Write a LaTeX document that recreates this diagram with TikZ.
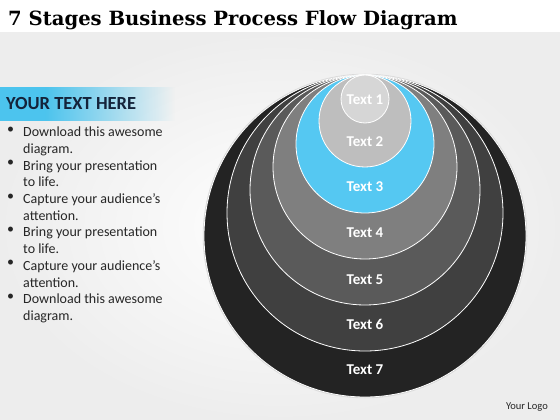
\documentclass[tikz,border=0pt]{standalone}
\usepackage{fontspec}
\setmainfont{Carlito}
\newfontfamily\titlefont{DejaVu Serif}
\usepackage{xcolor}
\usetikzlibrary{positioning,fadings}

\definecolor{ringone}{HTML}{D6D6D6}
\definecolor{ringtwo}{HTML}{BEBEBE}
\definecolor{ringthree}{HTML}{55C8F2}
\definecolor{ringfour}{HTML}{7F7F7F}
\definecolor{ringfive}{HTML}{5A5A5A}
\definecolor{ringsix}{HTML}{404040}
\definecolor{ringseven}{HTML}{232323}
\definecolor{bandblue}{HTML}{4CC4EE}
\definecolor{headblue}{HTML}{14233A}
\definecolor{bodytext}{HTML}{262626}

\begin{document}
\begin{tikzpicture}[x=1pt, y=-1pt,
  ring/.style={draw=white, line width=0.8pt},
  lbl/.style={text=white, font=\bfseries\fontsize{15}{17}\selectfont},
  item/.style={anchor=north west, inner sep=0pt, align=left, text=bodytext,
    font=\fontsize{14}{16.7}\selectfont},
  dot/.style={anchor=north west, inner sep=0pt, text=bodytext,
    font=\fontsize{14}{16.7}\selectfont}]
\useasboundingbox (0,0) rectangle (560,420);

% background
\fill[white] (0,0) rectangle (560,420);
\shade[inner color=white, outer color=gray!14] (0,33) rectangle (560,420);

% title
\node[anchor=base west, inner sep=0pt] (title) at (8,26)
  {\titlefont\bfseries\fontsize{19.6}{24}\selectfont 7 Stages Business Process Flow Diagram};

% left panel
\fill[bandblue] (0,87) rectangle (45,121);
\fill[bandblue, path fading=east] (45,87) rectangle (175,121);
\node[anchor=base west, inner sep=0pt, text=headblue, font=\bfseries\fontsize{18.5}{22}\selectfont]
  (head) at (6,110) {YOUR TEXT HERE};

\node[dot] (d1) at (7,127) {\textbullet};
\node[item] (b1) at (23,127) {Download this awesome\\diagram.};
\node[dot] (d2) at (7,160.3) {\textbullet};
\node[item] (b2) at (23,160.3) {Bring your presentation\\to life.};
\node[dot] (d3) at (7,193.7) {\textbullet};
\node[item] (b3) at (23,193.7) {Capture your audience’s\\attention.};
\node[dot] (d4) at (7,227) {\textbullet};
\node[item] (b4) at (23,227) {Bring your presentation\\to life.};
\node[dot] (d5) at (7,260.3) {\textbullet};
\node[item] (b5) at (23,260.3) {Capture your audience’s\\attention.};
\node[dot] (d6) at (7,293.7) {\textbullet};
\node[item] (b6) at (23,293.7) {Download this awesome\\diagram.};

% rings, all touching at the top
\draw[gray!30, line width=2.5pt] (365,236) circle (161pt);
\fill[ringseven, ring] (365,236) circle (161pt);
\fill[ringsix, ring] (365,213) circle (138pt);
\fill[ringfive, ring] (365,190) circle (115pt);
\fill[ringfour, ring] (365,167) circle (92pt);
\fill[ringthree, ring] (365,144) circle (69pt);
\fill[ringtwo, ring] (365,121) circle (46pt);
\fill[ringone, ring] (365,99) circle (24pt);

% ring labels
\node[lbl] (t1) at (365,100) {Text 1};
\node[lbl] (t2) at (365,142) {Text 2};
\node[lbl] (t3) at (365,187) {Text 3};
\node[lbl] (t4) at (365,233) {Text 4};
\node[lbl] (t5) at (365,280) {Text 5};
\node[lbl] (t6) at (365,324) {Text 6};
\node[lbl] (t7) at (365,370) {Text 7};

% logo
\node[anchor=base east, inner sep=0pt, text=bodytext, font=\fontsize{10.5}{12}\selectfont]
  (logo) at (548,409) {Your Logo};
\end{tikzpicture}
\end{document}
